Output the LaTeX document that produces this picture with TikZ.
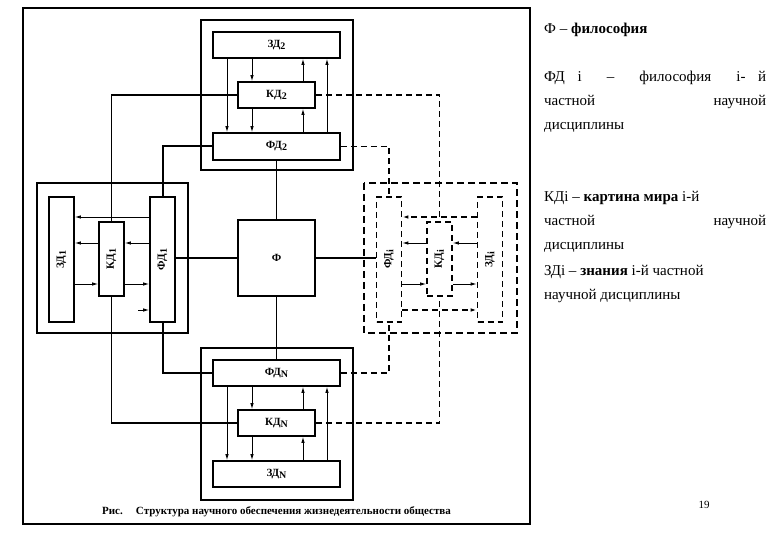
\documentclass[tikz,border=0pt]{standalone}
\usepackage{fontspec}
\setmainfont{Liberation Serif}
\usetikzlibrary{arrows.meta}
\newcommand{\sbs}[1]{\raisebox{-0.4ex}{\fontsize{10}{12}\selectfont #1}}
\begin{document}
\begin{tikzpicture}[x=1pt,y=-1pt,
  box/.style={draw,line width=1.6pt,inner sep=0pt,font=\bfseries\fontsize{11}{13}\selectfont},
  dbox/.style={box,dash pattern=on 6pt off 4pt},
  grp/.style={draw,line width=2pt},
  thin/.style={line width=0.9pt},
  thk/.style={line width=2pt},
  mid/.style={line width=1.3pt},
  dsh/.style={line width=1.4pt,dash pattern=on 6pt off 4pt},
  arr/.style={thin,-{Latex[length=6pt,width=3.5pt]}},
  darr/.style={dsh,-{Latex[length=6pt,width=3.5pt]}},
  txt/.style={anchor=base west,inner sep=0pt,font=\fontsize{15}{18}\selectfont}]
\useasboundingbox (0,0) rectangle (780,540);
\draw[line width=1.6pt] (23,8) rectangle (530,524);
\draw[grp] (201,20) rectangle (353,170);
\draw[grp] (37,183) rectangle (188,333);
\draw[grp,dash pattern=on 7pt off 4pt] (364,183) rectangle (517,333);
\draw[grp] (201,348) rectangle (353,500);
% boxes
\node[box,minimum width=127,minimum height=26] (zd2) at (276.5,45) {ЗД\sbs{2}};
\node[box,minimum width=77,minimum height=26] (kd2) at (276.5,95) {КД\sbs{2}};
\node[box,minimum width=127,minimum height=27] (fd2) at (276.5,146.5) {ФД\sbs{2}};
\node[box,minimum width=77,minimum height=76] (f) at (276.5,258) {Ф};
\node[box,minimum width=127,minimum height=26] (fdn) at (276.5,373) {ФД\sbs{N}};
\node[box,minimum width=77,minimum height=26] (kdn) at (276.5,423) {КД\sbs{N}};
\node[box,minimum width=127,minimum height=26] (zdn) at (276.5,474) {ЗД\sbs{N}};
\node[box,minimum width=25,minimum height=125] (zd1) at (61.5,259.5) {\rotatebox{90}{ЗД\sbs{1}}};
\node[box,minimum width=25,minimum height=74] (kd1) at (111.5,259) {\rotatebox{90}{КД\sbs{1}}};
\node[box,minimum width=25,minimum height=125] (fd1) at (162.5,259.5) {\rotatebox{90}{ФД\sbs{1}}};
\node[dbox,minimum width=25,minimum height=125] (fdi) at (389,259.5) {\rotatebox{90}{ФД\sbs{i}}};
\node[dbox,minimum width=25,minimum height=74] (kdi) at (439.5,259) {\rotatebox{90}{КД\sbs{i}}};
\node[dbox,minimum width=25,minimum height=125] (zdi) at (490,259.5) {\rotatebox{90}{ЗД\sbs{i}}};
% x / y helpers
\coordinate (xa) at (227,0); \coordinate (xb) at (252,0);
\coordinate (xc) at (303,0); \coordinate (xd) at (327,0);
\coordinate (ya) at (0,217); \coordinate (yb) at (0,243);
\coordinate (yc) at (0,284); \coordinate (yd) at (0,310);
\coordinate (s1) at (138,310);
% central
\draw[mid] (fd2.south) -- (f.north);
\draw[mid] (f.south) -- (fdn.north);
\draw[mid] (f.west) -- (fd1.east |- f.west);
\draw[mid] (f.east) -- (fdi.west |- f.east);
% solid long connectors
\draw[thk] (fd2.west) -| (fd1.north);
\draw[thk] (fdn.west) -| (fd1.south);
\draw[mid] (kd2.west) -| (kd1.north);
\draw[mid] (kdn.west) -| (kd1.south);
% dashed long connectors
\draw[dsh] (kd2.east) -| (kdi.north);
\draw[dsh] (fd2.east) -| (fdi.north);
\draw[dsh] (fdn.east) -| (fdi.south);
\draw[dsh] (kdn.east) -| (kdi.south);
% top internals
\draw[arr] (zd2.south -| xa) -- (fd2.north -| xa);
\draw[arr] (zd2.south -| xb) -- (kd2.north -| xb);
\draw[arr] (kd2.south -| xb) -- (fd2.north -| xb);
\draw[arr] (kd2.north -| xc) -- (zd2.south -| xc);
\draw[arr] (fd2.north -| xc) -- (kd2.south -| xc);
\draw[arr] (fd2.north -| xd) -- (zd2.south -| xd);
% bottom internals
\draw[arr] (fdn.south -| xa) -- (zdn.north -| xa);
\draw[arr] (fdn.south -| xb) -- (kdn.north -| xb);
\draw[arr] (kdn.south -| xb) -- (zdn.north -| xb);
\draw[arr] (zdn.north -| xc) -- (kdn.south -| xc);
\draw[arr] (kdn.north -| xc) -- (fdn.south -| xc);
\draw[arr] (zdn.north -| xd) -- (fdn.south -| xd);
% left internals
\draw[arr] (fd1.west |- ya) -- (zd1.east |- ya);
\draw[arr] (kd1.west |- yb) -- (zd1.east |- yb);
\draw[arr] (fd1.west |- yb) -- (kd1.east |- yb);
\draw[arr] (zd1.east |- yc) -- (kd1.west |- yc);
\draw[arr] (kd1.east |- yc) -- (fd1.west |- yc);
\draw[arr] (s1) -- (fd1.west |- yd);
% right internals
\draw[darr] (zdi.west |- ya) -- (fdi.east |- ya);
\draw[arr] (kdi.west |- yb) -- (fdi.east |- yb);
\draw[arr] (zdi.west |- yb) -- (kdi.east |- yb);
\draw[arr] (fdi.east |- yc) -- (kdi.west |- yc);
\draw[arr] (kdi.east |- yc) -- (zdi.west |- yc);
\draw[darr] (fdi.east |- yd) -- (zdi.west |- yd);
% caption
\node[font=\bfseries\fontsize{11}{13}\selectfont,inner sep=0pt] (cap) at (276.5,512) {Рис.\hspace{1.2em}Структура научного обеспечения жизнедеятельности общества};
% right text
\node[txt] (t1) at (544,34) {Ф – \textbf{философия}};
\node[txt] (t2) at (544,82) {\makebox[222pt][s]{ФД i \ – \ философия \ i- й}};
\node[txt] (t3) at (544,106) {\makebox[222pt][s]{частной научной}};
\node[txt] (t4) at (544,130) {дисциплины};
\node[txt] (t5) at (544,202) {КДi – \textbf{картина мира} i-й};
\node[txt] (t6) at (544,226) {\makebox[222pt][s]{частной научной}};
\node[txt] (t7) at (544,250) {дисциплины};
\node[txt] (t8) at (544,276) {ЗДi – \textbf{знания} i-й частной};
\node[txt] (t9) at (544,300) {научной дисциплины};
\node[font=\fontsize{11}{13}\selectfont] (pg) at (704,505) {19};
\end{tikzpicture}
\end{document}
